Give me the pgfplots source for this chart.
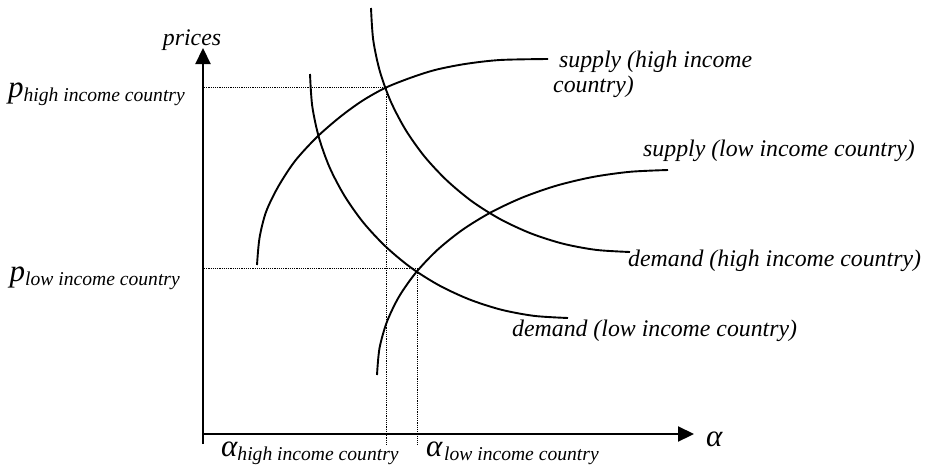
\documentclass[border=0pt]{standalone}
\usepackage{fontspec}
\setmainfont{Liberation Serif}
\usepackage{pgfplots}
\pgfplotsset{compat=1.18}
\usetikzlibrary{arrows.meta}
\newcommand{\lbl}{\fontsize{23.8}{25}\selectfont\itshape}
\newcommand{\sublbl}[1]{\raisebox{-4.5pt}{\fontsize{19.6}{19.6}\selectfont\itshape #1}}
\newcommand{\biglbl}[1]{{\fontsize{31}{31}\selectfont\itshape #1}}
\begin{document}
\begin{tikzpicture}
\useasboundingbox (0,0) rectangle (926pt,466pt);
\begin{axis}[
  at={(0,0)}, anchor=south west,
  width=926pt, height=466pt, scale only axis,
  xmin=0, xmax=926, ymin=0, ymax=466, y dir=reverse,
  hide axis, clip=false,
]
% axes
\addplot[black, line width=2.2pt, -{Triangle[length=16pt,width=15pt]}] coordinates {(203,444) (203,48)};
\addplot[black, line width=2.2pt, -{Triangle[length=16pt,width=15pt]}] coordinates {(202,434) (694,434)};
% dotted guides
\addplot[black, line width=1pt, dash pattern=on 1.1pt off 1.1pt] coordinates {(204,87) (386,87) (386,445)};
\addplot[black, line width=1pt, dash pattern=on 1.1pt off 1.1pt] coordinates {(204,268) (417,268) (417,445)};
% supply (high income country)
\addplot[black, line width=1.9pt, smooth] coordinates {
(257,265) (259.5,238) (266,212) (278,187) (295,161) (317,137)
(340,117) (362,101) (385,88) (410,78) (435,70) (465,64) (500,60) (548,59)};
% supply (low income country)
\addplot[black, line width=1.9pt, smooth] coordinates {
(377,375) (379.5,348.2) (386.9,321.9) (399.1,296.5) (416,272.5) (437.1,250.2)
(462.2,230) (490.8,212.4) (522.5,197.5) (556.6,185.6) (592.7,177) (630,171.8) (668,170)};
% demand (high income country)
\addplot[black, line width=1.9pt, smooth] coordinates {
(371,8) (373.2,39.8) (379.8,71.1) (390.7,101.4) (405.7,130) (424.5,156.5)
(446.9,180.5) (472.3,201.6) (500.5,219.3) (530.9,233.4) (563,243.7) (596.2,249.9) (630,252)};
% demand (low income country)
\addplot[black, line width=1.9pt, smooth] coordinates {
(310,74) (312.2,105.8) (318.8,137.1) (329.6,167.4) (344.6,196) (363.3,222.5)
(385.6,246.5) (410.9,267.6) (439,285.3) (469.3,299.4) (501.2,309.7) (534.3,315.9) (568,318)};
% labels
\node[anchor=center, font=\lbl] at (axis cs:192,40) {prices};
\node[anchor=base east, inner sep=0pt] at (axis cs:185,97) {\biglbl{p}\sublbl{high income country}};
\node[anchor=base east, inner sep=0pt] at (axis cs:180,281) {\biglbl{p}\sublbl{low income country}};
\node[anchor=base west, inner sep=0pt] at (axis cs:221,456) {\biglbl{α}\sublbl{high income country}};
\node[anchor=base west, inner sep=0pt] at (axis cs:426,456) {\biglbl{α}\,\sublbl{low income country}};
\node[anchor=base west, inner sep=0pt] at (axis cs:706,446) {\biglbl{α}};
\node[anchor=base west, inner sep=0pt, font=\lbl, align=left] at (axis cs:553,92) {\ supply (high income\\country)};
\node[anchor=base west, inner sep=0pt, font=\lbl] at (axis cs:643,156) {supply (low income country)};
\node[anchor=base west, inner sep=0pt, font=\lbl] at (axis cs:628,266) {demand (high income country)};
\node[anchor=base west, inner sep=0pt, font=\lbl] at (axis cs:512,336) {demand (low income country)};
\end{axis}
\end{tikzpicture}
\end{document}
